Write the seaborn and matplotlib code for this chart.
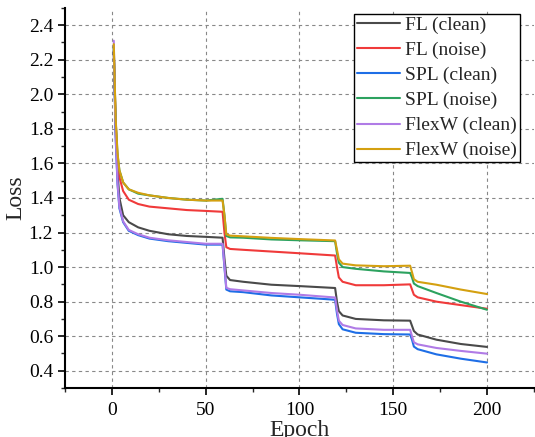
import pandas as pd
import numpy as np
import matplotlib
matplotlib.use("Agg")
import matplotlib.pyplot as plt
import seaborn as sns
from matplotlib.ticker import MultipleLocator

# --- data (loss per epoch) ---
epochs = [1, 2, 3, 4, 6, 9, 14, 20, 30, 40, 50, 59, 60, 61, 63, 70, 85, 100, 119,
          120, 121, 123, 130, 145, 159, 160, 161, 163, 173, 186, 200]

fl_clean = [2.25, 1.80, 1.55, 1.40, 1.30, 1.26, 1.23, 1.21, 1.19, 1.18, 1.175, 1.17,
            1.05, 0.95, 0.925, 0.915, 0.898, 0.89, 0.879, 0.80, 0.745, 0.72, 0.70,
            0.692, 0.69, 0.66, 0.63, 0.61, 0.58, 0.555, 0.538]
fl_noise = [2.25, 1.85, 1.62, 1.52, 1.44, 1.39, 1.365, 1.35, 1.34, 1.33, 1.325, 1.32,
            1.20, 1.115, 1.105, 1.10, 1.09, 1.08, 1.067, 1.00, 0.94, 0.915, 0.895,
            0.895, 0.90, 0.87, 0.84, 0.825, 0.80, 0.78, 0.759]
spl_clean = [2.26, 1.75, 1.48, 1.34, 1.26, 1.21, 1.185, 1.165, 1.15, 1.14, 1.13, 1.13,
             1.00, 0.87, 0.86, 0.855, 0.836, 0.825, 0.811, 0.73, 0.67, 0.64, 0.62,
             0.612, 0.61, 0.58, 0.54, 0.525, 0.495, 0.47, 0.448]
spl_noise = [2.27, 1.85, 1.65, 1.56, 1.49, 1.45, 1.425, 1.415, 1.40, 1.39, 1.385, 1.395,
             1.30, 1.18, 1.172, 1.17, 1.16, 1.155, 1.15, 1.08, 1.025, 1.00, 0.99,
             0.975, 0.966, 0.94, 0.905, 0.89, 0.85, 0.80, 0.753]
flexw_clean = [2.31, 1.76, 1.49, 1.35, 1.265, 1.215, 1.19, 1.17, 1.155, 1.145, 1.135, 1.135,
               1.01, 0.88, 0.872, 0.865, 0.85, 0.84, 0.824, 0.75, 0.69, 0.665, 0.645,
               0.637, 0.637, 0.60, 0.565, 0.553, 0.532, 0.515, 0.499]
flexw_noise = [2.29, 1.86, 1.66, 1.56, 1.49, 1.45, 1.43, 1.415, 1.40, 1.39, 1.385, 1.385,
               1.30, 1.19, 1.182, 1.178, 1.169, 1.162, 1.154, 1.10, 1.045, 1.02, 1.01,
               1.005, 1.008, 0.97, 0.93, 0.915, 0.898, 0.87, 0.844]

labels = ['FL (clean)', 'FL (noise)', 'SPL (clean)', 'SPL (noise)', 'FlexW (clean)', 'FlexW (noise)']
colors = ['#4a4a4a', '#f03a3a', '#1e6ee6', '#2ca25f', '#b07be6', '#d4a010']
series = [fl_clean, fl_noise, spl_clean, spl_noise, flexw_clean, flexw_noise]

df = pd.concat([pd.DataFrame({'Epoch': epochs, 'Loss': s, 'Method': lab})
                for s, lab in zip(series, labels)], ignore_index=True)

# --- figure ---
sns.set_style("ticks")
plt.rcParams['font.family'] = ['Liberation Serif', 'DejaVu Serif']

fig = plt.figure(figsize=(5.35, 4.37), dpi=100)
ax = fig.add_axes([0.1215, 0.112, 0.8765, 0.870])

sns.lineplot(data=df, x='Epoch', y='Loss', hue='Method', hue_order=labels,
             palette=colors, linewidth=1.5, ax=ax, legend=True)

ax.set_xlim(-25, 225)
ax.set_ylim(0.3, 2.5)
ax.xaxis.set_minor_locator(MultipleLocator(25))
ax.yaxis.set_minor_locator(MultipleLocator(0.1))
ax.set_xticks([0, 50, 100, 150, 200])
ax.set_yticks(np.arange(0.4, 2.41, 0.2))
ax.yaxis.set_major_formatter(matplotlib.ticker.FormatStrFormatter('%.1f'))

ax.grid(True, which='major', linestyle=(0, (3, 3)), color='#888888', linewidth=0.8)
sns.despine(ax=ax, top=True, right=True)
for sp in ['left', 'bottom']:
    ax.spines[sp].set_linewidth(1.5)
    ax.spines[sp].set_color('black')

ax.tick_params(axis='both', which='major', direction='out', length=5, width=1.2,
               labelsize=14, colors='black')
ax.tick_params(axis='x', which='major', pad=5)
ax.tick_params(axis='both', which='minor', direction='out', length=3, width=1.0)

ax.set_xlabel('Epoch', fontsize=17, labelpad=1)
ax.set_ylabel('Loss', fontsize=17, labelpad=2)

leg = ax.legend(loc='upper right', bbox_to_anchor=(0.970, 0.985), fontsize=14,
                frameon=True, fancybox=False, edgecolor='black', framealpha=1,
                handlelength=2.2, labelspacing=0.38, borderpad=0.15,
                handletextpad=0.26, borderaxespad=0)
leg.get_frame().set_linewidth(1.0)

plt.savefig('out.png', dpi=100)
